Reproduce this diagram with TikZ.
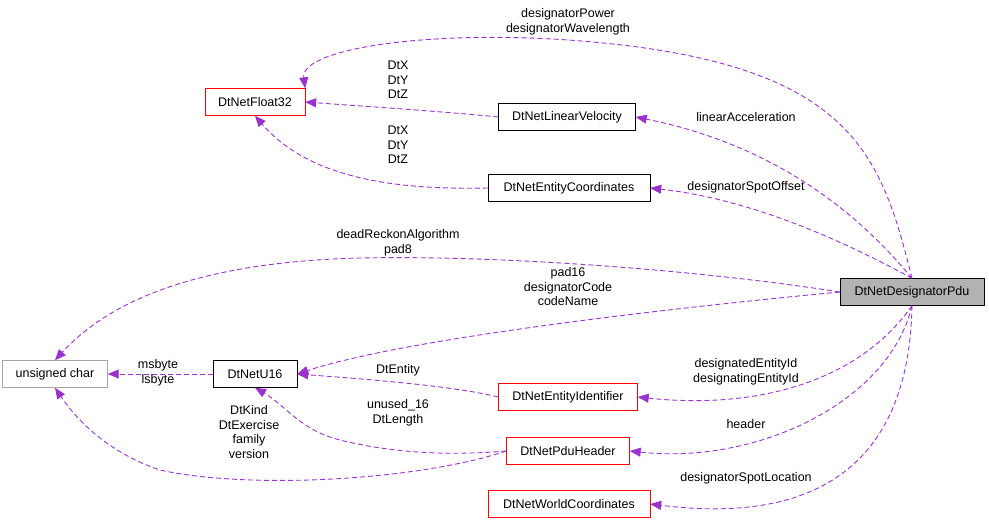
\documentclass[tikz,border=0pt]{standalone}
\usepackage{fontspec}
\setmainfont{Liberation Sans}
\usetikzlibrary{arrows.meta}
\definecolor{orch}{HTML}{9A32CD}
\begin{document}
\begin{tikzpicture}[x=1pt,y=-1pt,
  font=\fontsize{12.5}{14.5}\selectfont,
  box/.style={draw=black,fill=white,minimum height=27pt,inner xsep=4pt,anchor=center},
  rbox/.style={box,draw=red},
  gbox/.style={box,draw=black!35},
  e/.style={draw=orch,line width=0.9pt,dash pattern=on 5pt off 3pt,-{Stealth[length=11pt,width=9pt,inset=0pt]},color=orch},
  lab/.style={align=center,text=black}]
\useasboundingbox (0,0) rectangle (989,526);
\node[box,fill=black!30,minimum width=144pt] (pdu) at (912,292) {DtNetDesignatorPdu};
\node[rbox,minimum width=100pt] (f32) at (255,102) {DtNetFloat32};
\node[box,minimum width=137pt] (lv) at (567,117) {DtNetLinearVelocity};
\node[box,minimum width=162pt] (ec) at (569,188) {DtNetEntityCoordinates};
\node[gbox,minimum width=105pt] (uc) at (55,374) {unsigned char};
\node[box,minimum width=84pt] (u16) at (255,374) {DtNetU16};
\node[rbox,minimum width=139pt] (eid) at (568,397) {DtNetEntityIdentifier};
\node[rbox,minimum width=123pt] (ph) at (568,451) {DtNetPduHeader};
\node[rbox,minimum width=162pt] (wc) at (569,504) {DtNetWorldCoordinates};

\path[e] (pdu.north) .. controls (880,150) and (850,60) .. (568,40) .. controls (420,30) and (300,50) .. (f32.north east);
\node[lab] at (568,22) {designatorPower\\designatorWavelength};
\path[e] (lv.west) .. controls (450,112) and (360,106) .. (f32.east);
\node[lab] at (398,80) {DtX\\DtY\\DtZ};
\path[e] (ec.west) .. controls (400,190) and (310,180) .. (f32.south);
\node[lab] at (398,145) {DtX\\DtY\\DtZ};
\path[e] (pdu.north) .. controls (880,240) and (800,150) .. (lv.east);
\node[lab] at (746,117) {linearAcceleration};
\path[e] (pdu.north) .. controls (860,250) and (760,200) .. (ec.east);
\node[lab] at (746,187) {designatorSpotOffset};
\path[e] (pdu.west) .. controls (700,270) and (500,255) .. (360,258) .. controls (200,262) and (110,300) .. (uc.north);
\node[lab] at (398,243) {deadReckonAlgorithm\\pad8};
\path[e] (pdu.west) .. controls (650,310) and (400,340) .. (u16.east);
\node[lab] at (568,287) {pad16\\designatorCode\\codeName};
\path[e] (u16.west) -- (uc.east);
\node[lab] at (158,373) {msbyte\\lsbyte};
\path[e] (eid.west) .. controls (450,385) and (350,378) .. (u16.east);
\node[lab] at (398,370) {DtEntity};
\path[e] (ph.west) .. controls (460,455) and (400,455) .. (340,440) .. controls (300,430) and (285,405) .. (u16.south);
\node[lab] at (398,413) {unused\_16\\DtLength};
\path[e] (ph.west) .. controls (420,480) and (250,490) .. (160,470) .. controls (100,450) and (70,410) .. (uc.south);
\node[lab] at (249,432) {DtKind\\DtExercise\\family\\version};
\path[e] (pdu.south) .. controls (860,380) and (760,410) .. (eid.east);
\node[lab] at (746,372) {designatedEntityId\\designatingEntityId};
\path[e] (pdu.south) .. controls (890,400) and (760,465) .. (ph.east);
\node[lab] at (746,424) {header};
\path[e] (pdu.south) .. controls (910,420) and (860,530) .. (wc.east);
\node[lab] at (746,478) {designatorSpotLocation};
\end{tikzpicture}
\end{document}
